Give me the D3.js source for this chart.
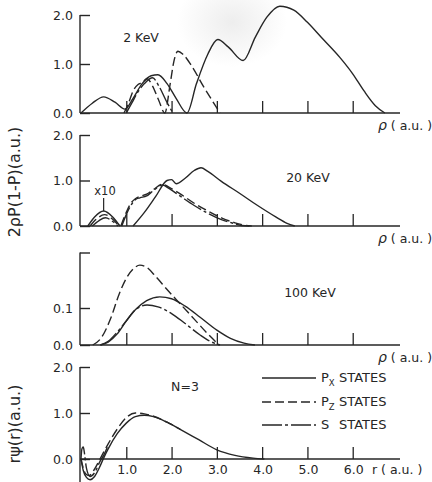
<!DOCTYPE html>
<html>
<head>
<meta charset="utf-8">
<script src="https://cdn.jsdelivr.net/npm/d3@7"></script>
<style>
  html, body { margin: 0; padding: 0; background: #fff; }
  svg text { font-family: "DejaVu Sans", sans-serif; fill: #262626; }
</style>
</head>
<body>
<svg id="chart" width="432" height="482"></svg>
<script>
// ---- shared axis values ----
const rTicks = [1, 2, 3, 4, 5, 6];
const rTickLabels = ["1.0", "2.0", "3.0", "4.0", "5.0", "6.0"];

// ---- 2 KeV : 2ρP(1-P) ----
const kev2Px = [[0,0],[0.25,0.2],[0.5,0.33],[0.75,0.22],[0.97,0.08],[1.15,0.3],[1.35,0.6],[1.55,0.76],[1.7,0.78],[1.9,0.6],[2.1,0.3],[2.34,0],[2.55,0.6],[2.8,1.2],[3.02,1.5],[3.25,1.35],[3.58,1.07],[3.85,1.55],[4.1,1.95],[4.39,2.18],[4.7,2.1],[5.0,1.85],[5.3,1.55],[5.72,1.13],[6.0,0.8],[6.25,0.45],[6.5,0.15],[6.71,0]];
const kev2Pz = [[0.95,0],[1.05,0.2],[1.15,0.45],[1.26,0.58],[1.35,0.62],[1.46,0.7],[1.58,0.55],[1.72,0.25],[1.85,0],[1.97,0.6],[2.05,1.05],[2.14,1.26],[2.25,1.2],[2.45,0.95],[2.7,0.55],[2.9,0.25],[3.07,0]];
const kev2S  = [[1.0,0],[1.12,0.2],[1.25,0.42],[1.4,0.6],[1.58,0.72],[1.72,0.55],[1.88,0.25],[2.03,0]];

// ---- 20 KeV ----
const kev20PxSmall = [[0.15,0],[0.3,0.2],[0.5,0.33],[0.7,0.2],[0.86,0]];
const kev20PzSmall = [[0.2,0],[0.35,0.16],[0.52,0.25],[0.7,0.15],[0.84,0]];
const kev20SSmall  = [[0.25,0],[0.4,0.12],[0.54,0.18],[0.7,0.1],[0.82,0]];
const kev20Px = [[1.15,0],[1.4,0.3],[1.65,0.65],[1.9,1.0],[2.0,1.02],[2.1,0.93],[2.3,1.05],[2.5,1.22],[2.65,1.28],[2.8,1.2],[3.1,0.98],[3.5,0.72],[3.9,0.45],[4.3,0.2],[4.55,0.06],[4.72,0]];
const kev20Pz = [[0.88,0],[1.0,0.3],[1.1,0.5],[1.2,0.6],[1.3,0.65],[1.45,0.7],[1.6,0.8],[1.8,0.92],[1.95,0.85],[2.2,0.7],[2.5,0.5],[2.8,0.33],[3.1,0.18],[3.4,0.07],[3.6,0.02],[3.77,0]];
const kev20S  = [[0.9,0],[1.0,0.25],[1.1,0.45],[1.2,0.58],[1.3,0.62],[1.45,0.66],[1.6,0.78],[1.8,0.9],[1.95,0.82],[2.2,0.65],[2.5,0.45],[2.8,0.28],[3.1,0.14],[3.4,0.05],[3.55,0.01],[3.72,0]];

// ---- 100 KeV ----
const kev100Px = [[0.43,0],[0.6,0.008],[0.8,0.03],[1.0,0.065],[1.2,0.095],[1.45,0.12],[1.74,0.13],[2.0,0.125],[2.3,0.105],[2.63,0.075],[3.0,0.04],[3.3,0.018],[3.6,0.005],[3.84,0]];
const kev100Pz = [[0.26,0],[0.45,0.02],[0.65,0.07],[0.85,0.14],[1.0,0.18],[1.15,0.205],[1.3,0.216],[1.45,0.21],[1.65,0.185],[1.9,0.15],[2.2,0.11],[2.5,0.07],[2.8,0.03],[3.05,0]];
const kev100S  = [[0.43,0],[0.6,0.01],[0.8,0.035],[1.0,0.065],[1.2,0.095],[1.46,0.108],[1.7,0.103],[2.0,0.085],[2.3,0.058],[2.63,0.027],[2.85,0.01],[3.07,0]];

// ---- N = 3 wave functions rψ(r) ----
const n3Px = [[0,0],[0.05,-0.25],[0.12,-0.4],[0.2,-0.45],[0.3,-0.38],[0.4,-0.2],[0.5,0.02],[0.6,0.22],[0.8,0.55],[1.0,0.78],[1.2,0.92],[1.4,0.95],[1.6,0.92],[1.9,0.8],[2.2,0.64],[2.6,0.42],[3.0,0.2],[3.4,0.08],[3.8,0.02],[4.05,0]];
const n3Pz = [[0,0],[0.05,-0.2],[0.1,-0.32],[0.18,-0.36],[0.28,-0.25],[0.42,0],[0.6,0.33],[0.8,0.65],[1.0,0.9],[1.2,1.0],[1.4,0.98],[1.6,0.93],[1.9,0.8],[2.2,0.64]];
const n3S  = [[0,0],[0.02,0.22],[0.05,0.26],[0.08,0.1],[0.12,-0.2],[0.2,-0.38],[0.3,-0.3],[0.42,-0.05],[0.5,0.08],[0.6,0.3]];

// ---- legend ----
const legendNames = ["P", "P", "S"];
const legendSubs = ["X", "Z", ""];

const svg = d3.select("#chart");
const ink = "#262626";
const dashPz = "9,4";
const dashS = "20,3,3,3";

// faint smudge near the top
const defs = svg.append("defs");
const grad = defs.append("radialGradient").attr("id", "smudge");
grad.append("stop").attr("offset", "0%").attr("stop-color", "#d8d8d8").attr("stop-opacity", 0.45);
grad.append("stop").attr("offset", "100%").attr("stop-color", "#d8d8d8").attr("stop-opacity", 0);
svg.append("ellipse").attr("cx", 232).attr("cy", 22).attr("rx", 55).attr("ry", 45).attr("fill", "url(#smudge)");

const x = d3.scaleLinear().domain([0, 7]).range([81, 398]);

const panels = [
  { base: 113, top: 15, yDomain: [0, 2], unitPx: 49, ticks: [0, 1, 2], labels: ["0.0", "1.0", "2.0"],
    title: "2 KeV", tx: 141, ty: 42, series: [[kev2Px, null], [kev2Pz, dashPz], [kev2S, dashS]] },
  { base: 226, top: 135, yDomain: [0, 2], unitPx: 45.5, ticks: [0, 1, 2], labels: ["0.0", "1.0", "2.0"],
    title: "20 KeV", tx: 308, ty: 182,
    series: [[kev20PxSmall, null], [kev20PzSmall, dashPz], [kev20SSmall, dashS], [kev20Px, null], [kev20Pz, dashPz], [kev20S, dashS]] },
  { base: 345, top: 252, yDomain: [0, 0.25], unitPx: 370, ticks: [0, 0.1, 0.25], labels: ["0.0", "0.1", ""],
    title: "100 KeV", tx: 310, ty: 297, series: [[kev100Px, null], [kev100Pz, dashPz], [kev100S, dashS]] },
  { base: 459, top: 367, yDomain: [-0.5, 2], unitPx: 46, ticks: [0, 1, 2], labels: ["0.0", "1.0", "2.0"],
    title: "N=3", tx: 185, ty: 391, series: [[n3Px, null], [n3Pz, dashPz], [n3S, dashS]] }
];

panels.forEach((p, i) => {
  const y = d3.scaleLinear()
    .domain(p.yDomain)
    .range([p.base - p.yDomain[0] * p.unitPx, p.base - p.yDomain[1] * p.unitPx]);
  const g = svg.append("g");

  // left axis with short inward ticks
  const yAxis = d3.axisRight(y).tickValues(p.ticks).tickSize(10).tickFormat("");
  const ya = g.append("g").attr("transform", "translate(80,0)").call(yAxis);
  ya.select(".domain").attr("d", `M0,${y(p.yDomain[1])}V${y(p.yDomain[0])}`);
  ya.selectAll("path, line").attr("stroke", ink).attr("stroke-width", 1.4);
  g.selectAll(".ylab").data(p.ticks.map((t, k) => [t, p.labels[k]])).enter()
    .append("text")
    .attr("x", 73).attr("y", d => y(d[0]) + 4.5)
    .attr("text-anchor", "end").attr("font-size", 12.5)
    .text(d => d[1]);

  // baseline with upward ticks
  const xAxis = d3.axisTop(x).tickValues(rTicks).tickSize(12).tickSizeOuter(0).tickFormat("");
  const xa = g.append("g").attr("transform", `translate(0,${p.base})`).call(xAxis);
  xa.select(".domain").attr("d", "M80,0H400");
  xa.selectAll("path, line").attr("stroke", ink).attr("stroke-width", 1.3);

  // curves
  const line = d3.line().x(d => x(d[0])).y(d => y(d[1])).curve(d3.curveMonotoneX);
  p.series.forEach(([pts, dash]) => {
    g.append("path").attr("d", line(pts)).attr("fill", "none")
      .attr("stroke", ink).attr("stroke-width", 1.4)
      .attr("stroke-dasharray", dash);
  });

  // panel title
  g.append("text").attr("x", p.tx).attr("y", p.ty).attr("text-anchor", "middle")
    .attr("font-size", 12.5).text(p.title);

  // axis name
  if (i < 3) {
    const t = g.append("text").attr("x", 378).attr("y", p.base + 17).attr("font-size", 12.5);
    t.append("tspan").attr("font-style", "italic").attr("font-size", 14).text("ρ");
    t.append("tspan").text(" ( a.u. )");
  }
});

// bottom tick labels
const last = panels[3];
svg.selectAll(".xlab").data(rTicks.map((t, k) => [t, rTickLabels[k]])).enter()
  .append("text")
  .attr("x", d => x(d[0]) + 1).attr("y", last.base + 15)
  .attr("text-anchor", "middle").attr("font-size", 12.5)
  .text(d => d[1]);
svg.append("text").attr("x", 372).attr("y", last.base + 15).attr("font-size", 12.5).text("r ( a.u. )");

// x10 magnification marker in the 20 KeV panel
const y20 = d3.scaleLinear().domain([0, 2]).range([226, 135]);
svg.append("text").attr("x", 105).attr("y", 195).attr("text-anchor", "middle").attr("font-size", 11.5).text("x10");
svg.append("line").attr("x1", x(0.5)).attr("x2", x(0.5)).attr("y1", 198).attr("y2", y20(0.33))
  .attr("stroke", ink).attr("stroke-width", 1.2);

// legend
const legendDash = [null, dashPz, dashS];
const legendY = [378, 402, 425];
legendNames.forEach((n, k) => {
  svg.append("line").attr("x1", 262).attr("x2", 316).attr("y1", legendY[k]).attr("y2", legendY[k])
    .attr("stroke", ink).attr("stroke-width", 1.4).attr("stroke-dasharray", legendDash[k]);
  const t = svg.append("text").attr("x", 321).attr("y", legendY[k] + 4).attr("font-size", 13);
  t.append("tspan").text(n);
  if (legendSubs[k]) t.append("tspan").attr("dy", 4).attr("font-size", 8.5).text(legendSubs[k]);
  svg.append("text").attr("x", 339).attr("y", legendY[k] + 4).attr("font-size", 13).text("STATES");
});

// y axis titles
svg.append("text").attr("transform", "translate(20,182) rotate(-90)").attr("text-anchor", "middle")
  .attr("font-size", 16).text("2ρP(1-P)(a.u.)");
svg.append("text").attr("transform", "translate(20,424) rotate(-90)").attr("text-anchor", "middle")
  .attr("font-size", 16).text("rψ(r)(a.u.)");
</script>
</body>
</html>
